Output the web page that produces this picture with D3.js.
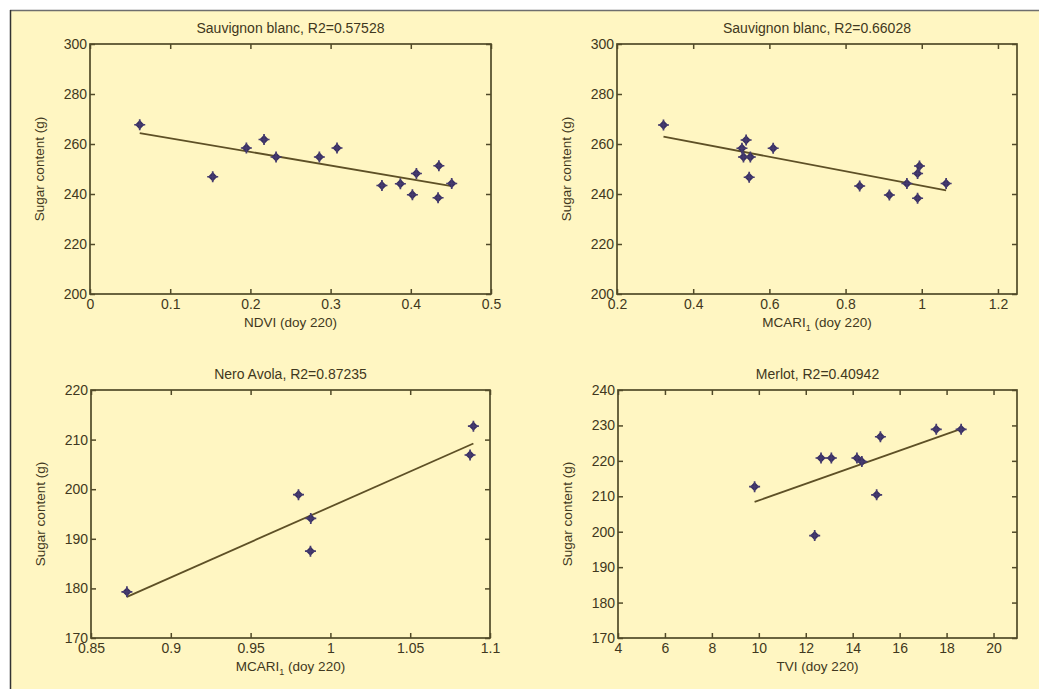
<!DOCTYPE html>
<html>
<head>
<meta charset="utf-8">
<script src="https://cdn.jsdelivr.net/npm/d3@7"></script>
<style>
  body { margin: 0; background: #fff; }
  text { font-family: "Liberation Sans", Arial, sans-serif; fill: #3f3820; }
</style>
</head>
<body>
<div id="chart"></div>
<script>
// Sauvignon blanc vs NDVI
var ndvi = [0.062, 0.153, 0.195, 0.217, 0.232, 0.286, 0.308, 0.364, 0.387, 0.402, 0.407, 0.434, 0.435, 0.451];
var sugarSbNdvi = [267.7, 246.9, 258.4, 261.8, 254.8, 254.8, 258.4, 243.4, 244.1, 239.7, 248.2, 238.5, 251.3, 244.2];
// Sauvignon blanc vs MCARI1
var mcariSb = [0.322, 0.539, 0.528, 0.532, 0.55, 0.547, 0.61, 0.837, 0.915, 0.961, 0.989, 0.989, 0.994, 1.064];
var sugarSbMcari = [267.6, 261.6, 258.3, 254.8, 254.8, 246.7, 258.3, 243.2, 239.6, 244.2, 238.3, 248.2, 251.2, 244.2];
// Nero Avola vs MCARI1
var mcariNero = [0.8725, 0.980, 0.9877, 0.9875, 1.0875, 1.0896];
var sugarNero = [179.3, 198.9, 194.1, 187.5, 206.9, 212.7];
// Merlot vs TVI
var tvi = [9.82, 12.38, 12.65, 13.09, 14.18, 14.39, 15.02, 15.18, 17.56, 18.62];
var sugarMerlot = [212.7, 198.9, 220.8, 220.8, 220.8, 219.8, 210.4, 226.8, 228.9, 228.9];

var titles = ["Sauvignon blanc, R2=0.57528", "Sauvignon blanc, R2=0.66028", "Nero Avola, R2=0.87235", "Merlot, R2=0.40942"];

// tick values
var xTicksNdvi = [0, 0.1, 0.2, 0.3, 0.4, 0.5];
var xTicksMcariSb = [0.2, 0.4, 0.6, 0.8, 1, 1.2];
var xTicksNero = [0.85, 0.9, 0.95, 1, 1.05, 1.1];
var xTicksTvi = [4, 6, 8, 10, 12, 14, 16, 18, 20];
var yTicksSb = [200, 220, 240, 260, 280, 300];
var yTicksNero = [170, 180, 190, 200, 210, 220];
var yTicksMerlot = [170, 180, 190, 200, 210, 220, 230, 240];

var width = 1039, height = 689;
var axisColor = "#514a28";

var svg = d3.select('#chart').append('svg')
  .attr("width", width)
  .attr("height", height);

// background + frame
svg.append("rect").attr("x", 10).attr("y", 10).attr("width", width - 10).attr("height", height - 10)
  .attr("fill", "#fff6c2");
svg.append("line").attr("x1", 10).attr("x2", width).attr("y1", 10.5).attr("y2", 10.5)
  .attr("stroke", "#6e6e6e").attr("stroke-width", 1.5);
svg.append("line").attr("x1", 10.5).attr("x2", 10.5).attr("y1", 10).attr("y2", height)
  .attr("stroke", "#333").attr("stroke-width", 1.5);

var panels = [
  { box: [90, 44, 491, 294], xs: ndvi, ys: sugarSbNdvi, xDom: [0, 0.5], yDom: [200, 300],
    xTicks: xTicksNdvi, yTicks: yTicksSb, title: titles[0], xLabel: ["NDVI", null] },
  { box: [617, 44, 1017, 294], xs: mcariSb, ys: sugarSbMcari, xDom: [0.2, 1.25], yDom: [200, 300],
    xTicks: xTicksMcariSb, yTicks: yTicksSb, title: titles[1], xLabel: ["MCARI", "1"] },
  { box: [91, 390, 490, 638], xs: mcariNero, ys: sugarNero, xDom: [0.85, 1.1], yDom: [170, 220],
    xTicks: xTicksNero, yTicks: yTicksNero, title: titles[2], xLabel: ["MCARI", "1"] },
  { box: [618, 390, 1017, 638], xs: tvi, ys: sugarMerlot, xDom: [4, 21], yDom: [170, 240],
    xTicks: xTicksTvi, yTicks: yTicksMerlot, title: titles[3], xLabel: ["TVI", null] }
];

var fmt = function(v) { return String(+v.toFixed(2)); };

panels.forEach(drawPanel);

function linearFit(xs, ys) {
  var mx = d3.mean(xs), my = d3.mean(ys);
  var sxy = d3.sum(xs, (x, i) => (x - mx) * (ys[i] - my));
  var sxx = d3.sum(xs, x => (x - mx) * (x - mx));
  var b = sxy / sxx;
  return x => my + b * (x - mx);
}

function drawPanel(p) {
  var x0 = p.box[0], y0 = p.box[1], x1 = p.box[2], y1 = p.box[3];
  var x = d3.scaleLinear().domain(p.xDom).range([x0, x1]);
  var y = d3.scaleLinear().domain(p.yDom).range([y1, y0]);
  var g = svg.append("g");

  // box
  g.append("rect").attr("x", x0).attr("y", y0).attr("width", x1 - x0).attr("height", y1 - y0)
    .attr("fill", "none").attr("stroke", axisColor).attr("stroke-width", 1.7);

  var axes = [
    [d3.axisBottom(x).tickValues(p.xTicks).tickFormat(fmt), "translate(0," + y1 + ")"],
    [d3.axisTop(x).tickValues(p.xTicks).tickFormat(""), "translate(0," + y0 + ")"],
    [d3.axisLeft(y).tickValues(p.yTicks).tickFormat(fmt), "translate(" + x0 + ",0)"],
    [d3.axisRight(y).tickValues(p.yTicks).tickFormat(""), "translate(" + x1 + ",0)"]
  ];
  axes.forEach(function(a, i) {
    var ax = g.append("g").attr("transform", a[1])
      .call(a[0].tickSizeInner(-5).tickSizeOuter(0).tickPadding(i == 0 ? 5 : 3));
    ax.select(".domain").remove();
    ax.selectAll("line").attr("stroke", axisColor).attr("stroke-width", 1.5);
    ax.selectAll("text").attr("fill", "#3a331c").style("font-size", "14px")
      .style("font-family", "'Liberation Sans', Arial, sans-serif");
  });

  // title
  g.append("text").attr("x", (x0 + x1) / 2).attr("y", y0 - 11)
    .attr("text-anchor", "middle").style("font-size", "14px").text(p.title);

  // y label
  g.append("text")
    .attr("transform", "translate(" + (x0 - 46) + "," + ((y0 + y1) / 2) + ") rotate(-90)")
    .attr("text-anchor", "middle").style("font-size", "13.5px").text("Sugar content (g)");

  // x label
  var xl = g.append("text").attr("x", (x0 + x1) / 2).attr("y", y1 + 33)
    .attr("text-anchor", "middle").style("font-size", "13.5px");
  xl.append("tspan").text(p.xLabel[0]);
  if (p.xLabel[1]) {
    xl.append("tspan").attr("dy", 4).style("font-size", "9px").text(p.xLabel[1]);
    xl.append("tspan").attr("dy", -4).text(" (doy 220)");
  } else {
    xl.append("tspan").text(" (doy 220)");
  }

  // regression line
  var f = linearFit(p.xs, p.ys);
  var ext = d3.extent(p.xs);
  g.append("line")
    .attr("x1", x(ext[0])).attr("y1", y(f(ext[0])))
    .attr("x2", x(ext[1])).attr("y2", y(f(ext[1])))
    .attr("stroke", "#5e5026").attr("stroke-width", 1.8);

  // markers
  var pts = g.selectAll(".pt").data(p.xs.map((v, i) => [v, p.ys[i]]))
    .enter().append("g").attr("class", "pt")
    .attr("transform", d => "translate(" + x(d[0]) + "," + y(d[1]) + ")");
  pts.append("path").attr("d", d3.symbol(d3.symbolDiamond2, 55)())
    .attr("fill", "#372e62");
  pts.append("path").attr("d", "M-5.5,0H5.5M0,-5.5V5.5")
    .attr("stroke", "#453b6e").attr("stroke-width", 1.7);
}
</script>
</body>
</html>
